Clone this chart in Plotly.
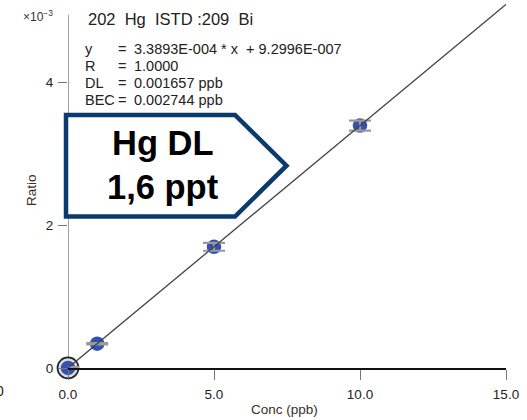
import plotly.graph_objects as go

# ---- data (ratio in units of 1e-3) ----
conc = [0.0, 1.0, 5.0, 10.0]
ratio = [0.0009, 0.34, 1.695, 3.39]
ratio_err = [0.01, 0.01, 0.055, 0.07]
slope = 0.33893          # 3.3893E-004 per ppb, in 1e-3 units
intercept = 0.00093      # 9.2996E-007, in 1e-3 units
fit_x = [0.0, 15.0]
fit_y = [slope * v + intercept for v in fit_x]

x_tickvals = [0, 5, 10, 15]
x_ticktext = ["0.0", "5.0", "10.0", "15.0"]
y_tickvals = [0, 2, 4]
y_ticktext = ["0", "2", "4"]

title_line = "202\u00a0 Hg\u00a0 ISTD :209\u00a0 Bi"
info_keys = ["y", "R", "DL", "BEC"]
info_vals = ["3.3893E-004 * x\u00a0 + 9.2996E-007", "1.0000", "0.001657 ppb", "0.002744 ppb"]
callout_lines = ["Hg DL", "1,6 ppt"]

# ---- layout geometry (pixels) ----
W, H = 527, 420
L, R, T, B = 68, 21, 4, 52
PW, PH = W - L - R, H - T - B

def px(x):
    return (x - L) / PW

def py(y):
    return (H - B - y) / PH

FONT = "Liberation Sans, Arial, sans-serif"
BLUE = "#3450b4"
NAVY = "#0b3a6e"

fig = go.Figure()

# ring around origin point
fig.add_trace(go.Scatter(
    x=conc[:1], y=ratio[:1], mode="markers", cliponaxis=False, hoverinfo="skip",
    marker=dict(size=21, color="#dcdcdc", line=dict(color="#222222", width=1.7)),
    showlegend=False))

# data points
fig.add_trace(go.Scatter(
    x=conc, y=ratio, mode="markers", cliponaxis=False,
    marker=dict(size=14.5, color=BLUE, line=dict(width=0)),
    showlegend=False))

# error bars (drawn on top of markers)
fig.add_trace(go.Scatter(
    x=conc, y=ratio, mode="markers", cliponaxis=False, hoverinfo="skip",
    marker=dict(size=1, color="rgba(0,0,0,0)"),
    error_y=dict(type="data", array=ratio_err, visible=True,
                 color="#9a9a9a", thickness=2.2, width=11),
    showlegend=False))

# calibration line
fig.add_trace(go.Scatter(
    x=fit_x, y=fit_y, mode="lines",
    line=dict(color="#444444", width=1.3),
    showlegend=False))

shapes = [
    # y-axis line (stops short of the top)
    dict(type="line", xref="x", yref="y", x0=0, x1=0, y0=0, y1=4.94,
         line=dict(color="#8a8a8a", width=1.6), layer="below"),
    # callout pentagon
    dict(type="path", xref="paper", yref="paper",
         path="M {a},{b} L {c},{b} L {d},{e} L {c},{f} L {a},{f} Z".format(
             a=px(66), b=py(115), c=px(235), d=px(286.5), e=py(165.7), f=py(216.5)),
         line=dict(color=NAVY, width=4.5), fillcolor="white", layer="above"),
]

def note(x, y, text, size, xanchor="left", color="#222222", family=FONT, angle=0):
    return dict(x=px(x), y=py(y), xref="paper", yref="paper", showarrow=False,
                xanchor=xanchor, yanchor="middle", text=text, textangle=angle,
                font=dict(family=family, size=size, color=color))

ann = []
ann.append(note(38, 16, "×10<sup>−3</sup>", 12, xanchor="center", color="#333333"))
ann.append(note(86, 19, title_line, 16.5))
rows_y = [49, 66, 83, 100]
for k, v, yy in zip(info_keys, info_vals, rows_y):
    ann.append(note(83, yy, k, 14.5))
    ann.append(note(116, yy, "=", 14.5))
    ann.append(note(132, yy, v, 14.5))
for t, yy in zip(callout_lines, [143, 187]):
    ann.append(note(163, yy, "<b>%s</b>" % t, 34.5, xanchor="center", color="#000000"))
ann.append(note(284, 409, "Conc (ppb)", 13.5, xanchor="center", color="#3a3028"))
ann.append(note(31, 190, "Ratio", 13.5, xanchor="center", color="#3a3028", angle=-90))
ann.append(note(6, 391, "0", 14, xanchor="right"))

fig.update_layout(
    width=W, height=H,
    margin=dict(l=L, r=R, t=T, b=B, pad=0),
    paper_bgcolor="white", plot_bgcolor="white",
    shapes=shapes, annotations=ann,
    xaxis=dict(range=[0, 15], showgrid=False, zeroline=False,
               showline=True, linecolor="#111111", linewidth=1.6,
               ticks="outside", ticklen=10, tickwidth=1.4, tickcolor="#777777",
               tickvals=x_tickvals, ticktext=x_ticktext,
               tickfont=dict(family=FONT, size=13.5, color="#222222"),
               ticklabelstandoff=3),
    yaxis=dict(range=[0, PH / 71.5], showgrid=False, zeroline=False,
               showline=False,
               ticks="outside", ticklen=9, tickwidth=1.4, tickcolor="#777777",
               tickvals=y_tickvals, ticktext=y_ticktext,
               tickfont=dict(family=FONT, size=13.5, color="#222222"),
               ticklabelstandoff=2),
)

fig.write_html("out.html", config={"displayModeBar": False},
               post_script="document.body.style.margin='0px';")
